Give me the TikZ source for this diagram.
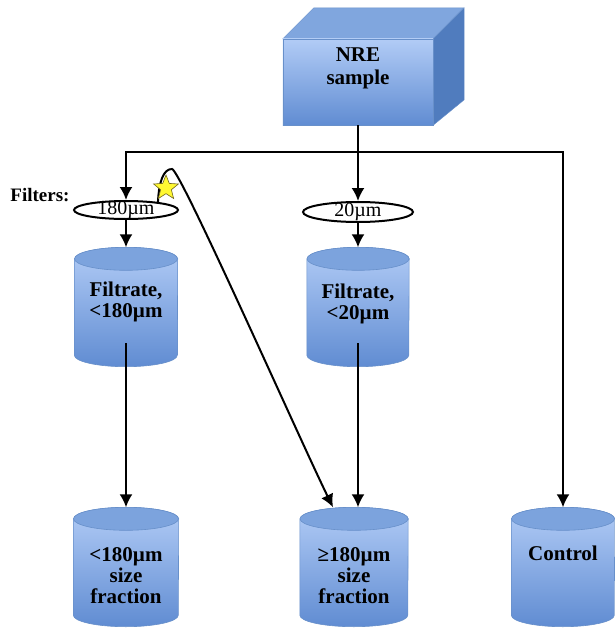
\documentclass[tikz,border=0pt]{standalone}
\usepackage{fontspec}
\setmainfont{Liberation Serif}[BoldFont={Liberation Serif Bold}]
\usetikzlibrary{shapes.geometric,arrows.meta,calc}

\definecolor{facelight}{RGB}{178,204,246}
\definecolor{facedark}{RGB}{96,140,210}
\definecolor{facetop}{RGB}{128,166,222}
\definecolor{faceside}{RGB}{80,124,190}
\definecolor{faceedge}{RGB}{104,144,202}
\definecolor{tanktop}{RGB}{124,163,221}
\definecolor{starfill}{RGB}{255,248,50}
\definecolor{staredge}{RGB}{110,100,30}

\begin{document}
\begin{tikzpicture}[x=1pt, y=1pt,
  flow/.style={-{Latex[length=13pt,width=13pt]}, line width=2pt},
  filter/.style={ellipse, draw, line width=2pt, fill=white, inner sep=0pt},
  tank/.style={inner sep=0pt, minimum height=119pt},
  tanktext/.style={align=center, font=\bfseries\fontsize{21}{21}\selectfont},
  filtertext/.style={font=\fontsize{20}{20}\selectfont}]

  \useasboundingbox (0,0) rectangle (615,-629);

  \newcommand\RY{11.5}
  % cylinder round a named node, #2 = half width
  \newcommand\drum[2]{
    \shade[top color=facelight, bottom color=facedark, draw=faceedge, line width=0.6pt]
      ($(#1.north west)+(0,-\RY)$) -- ($(#1.south west)+(0,\RY)$)
      arc[start angle=180, end angle=360, x radius=#2, y radius=\RY]
      -- ($(#1.north east)+(0,-\RY)$)
      arc[start angle=0, end angle=180, x radius=#2, y radius=\RY] -- cycle;
    \filldraw[fill=tanktop, draw=faceedge, line width=0.6pt]
      ($(#1.north)+(0,-\RY)$) ellipse[x radius=#2, y radius=\RY];
  }

  \node[tank, minimum width=103pt] (f180) at (126,-307) {};
  \node[tank, minimum width=102pt] (f20) at (358,-307) {};
  \node[tank, minimum width=105pt] (frac180) at (126,-567) {};
  \node[tank, minimum width=108pt] (fracgeq) at (354,-567) {};
  \node[tank, minimum width=103pt] (ctrl) at (563,-567) {};

  \drum{f180}{51.5}
  \drum{f20}{51}
  \drum{frac180}{52.5}
  \drum{fracgeq}{54}
  \drum{ctrl}{51.5}

  % the sample box
  \node[inner sep=0pt, minimum width=150pt, minimum height=86pt] (box) at (358,-82) {};
  \fill[facetop, draw=faceedge] (box.north west) -- ++(31,31) -- ++(150,0)
    -- (box.north east) -- cycle;
  \fill[faceside, draw=faceedge] (box.north east) -- ++(31,31) -- ++(0,-92)
    -- (box.south east) -- cycle;
  \shade[top color=facelight, bottom color=facedark, draw=faceedge]
    (box.south west) rectangle (box.north east);
  \node[tanktext, font=\bfseries\fontsize{21}{23}\selectfont] (nre)
    at ([yshift=14pt]box.center) {NRE\\sample};

  \node[tanktext] (f180txt) at ([yshift=5pt]f180.center) {Filtrate,\\<180µm};
  \node[tanktext] (f20txt) at ([yshift=3pt]f20.center) {Filtrate,\\<20µm};
  \node[tanktext] (frac180txt) at ([yshift=-9pt]frac180.center) {<180µm\\size\\fraction};
  \node[tanktext] (fracgeqtxt) at ([yshift=-9pt]fracgeq.center) {≥180µm\\size\\fraction};
  \node[tanktext] (ctrltxt) at ([yshift=14pt]ctrl.center) {Control};

  \node[font=\bfseries\fontsize{19}{19}\selectfont] (filters) at (40,-195) {Filters:};
  \node[filter, minimum width=104pt, minimum height=18pt,
    label={[filtertext]center:180µm}] (filt180) at (126,-210) {};
  \node[filter, minimum width=110pt, minimum height=20pt,
    label={[filtertext]center:20µm}] (filt20) at (358,-212) {};

  \coordinate (split) at (358,-152);
  \draw[line width=2pt] (box.south) -- (split);
  \draw[flow] (split) -| (filt180);
  \draw[flow] (split) -- (filt20);
  \draw[flow] (split) -| (ctrl);

  \draw[flow] (filt180) -- (f180);
  \draw[flow] (filt20) -- (f20);
  \draw[flow] ([yshift=-36pt]f180.center) -- (frac180);
  \draw[flow] ([yshift=-36pt]f20.center) -- (f20.center |- fracgeq.north);

  \coordinate (peak) at (172,-169);
  \draw[flow] (filt180.14) .. controls +(1,22) and (164,-169) .. (peak)
    .. controls (180,-169) and (300,-440) .. ([xshift=-21pt]fracgeq.north);

  \node[star, star points=5, star point ratio=2.3, fill=starfill, draw=staredge,
    line width=0.6pt, minimum size=26pt, inner sep=0pt] (mark) at (166,-188) {};

\end{tikzpicture}
\end{document}
